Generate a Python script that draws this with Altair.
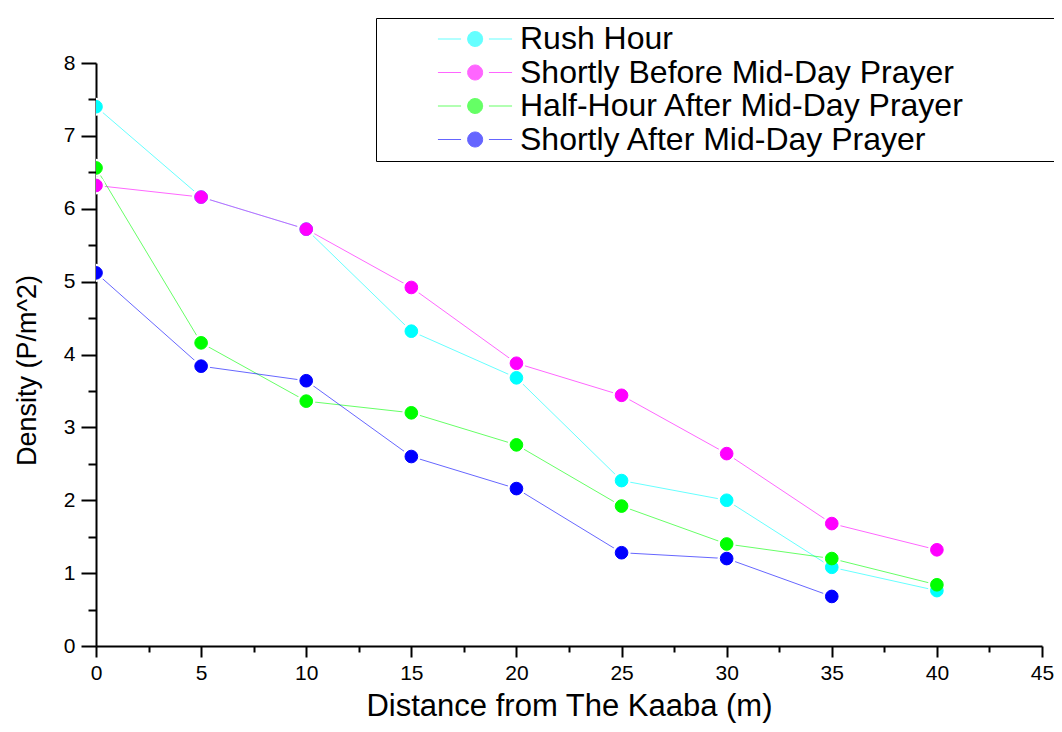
import altair as alt
import pandas as pd

distance = [0, 5, 10, 15, 20, 25, 30, 35, 40]
rush_hour = [7.40, 6.16, 5.72, 4.32, 3.68, 2.27, 2.00, 1.08, 0.76]
before_prayer = [6.32, 6.16, 5.72, 4.92, 3.88, 3.44, 2.64, 1.68, 1.32]
half_hour_after = [6.56, 4.16, 3.36, 3.20, 2.76, 1.92, 1.40, 1.20, 0.84]
shortly_after = [5.12, 3.84, 3.64, 2.60, 2.16, 1.28, 1.20, 0.68]

series_names = [
    "Rush Hour",
    "Shortly Before Mid-Day Prayer",
    "Half-Hour After Mid-Day Prayer",
    "Shortly After Mid-Day Prayer",
]
series_values = [rush_hour, before_prayer, half_hour_after, shortly_after]
colors = ["#00FFFF", "#FF00FF", "#00FF00", "#0000FF"]

x_tick_values = [i * 2.5 for i in range(19)]
y_tick_values = [i * 0.5 for i in range(17)]

rows = []
for order, (name, vals) in enumerate(zip(series_names, series_values)):
    for d, v in zip(distance, vals):
        rows.append({"distance": d, "density": v, "series": name, "order": order})
df = pd.DataFrame(rows)

FONT = "Liberation Sans"
# line - dot - line legend glyph; trailing move-to widens the legend box
symbol_path = ("M2.73,0L4.27,0M6.13,0L7.67,0"
               "M4.71,0A0.5,0.5,0,1,0,5.71,0A0.5,0.5,0,1,0,4.71,0Z"
               "M43.5,0")

legend = alt.Legend(
    orient="none", legendX=280, legendY=-45, title=None,
    symbolType=symbol_path, symbolSize=900, symbolStrokeWidth=1,
    labelFont=FONT, labelFontSize=32, labelColor="black", labelLimit=1200,
    labelOffset=107, padding=5, rowPadding=1.5,
    strokeColor="black", fillColor="white",
)
color_scale = alt.Scale(domain=series_names, range=colors)

x_enc = alt.X(
    "distance:Q",
    scale=alt.Scale(domain=[0, 45], nice=False, zero=False),
    axis=alt.Axis(
        values=x_tick_values,
        labelExpr="datum.value % 5 === 0 ? format(datum.value, 'd') : ''",
        tickSize={"condition": {"test": "datum.value % 5 === 0", "value": 11}, "value": 6},
        title="Distance from The Kaaba (m)",
        labelFont=FONT, labelFontSize=21, labelColor="black",
        labelPadding=5, titlePadding=8, labelFlush=False, labelOverlap=False,
        titleFontSize=31,
    ),
)
y_enc = alt.Y(
    "density:Q",
    scale=alt.Scale(domain=[0, 8], nice=False),
    axis=alt.Axis(
        values=y_tick_values,
        labelExpr="datum.value % 1 === 0 ? format(datum.value, 'd') : ''",
        tickSize={"condition": {"test": "datum.value % 1 === 0", "value": 15}, "value": 8},
        title="Density (P/m^2)",
        labelFont=FONT, labelFontSize=21, labelColor="black",
        labelPadding=6, titlePadding=22, labelFlush=False, labelOverlap=False,
        titleFontSize=27, titleY=307,
    ),
)

base = alt.Chart(df)

lines = base.mark_line(strokeWidth=1, opacity=0.6, clip=True).encode(
    x=x_enc, y=y_enc,
    stroke=alt.Stroke("series:N", scale=color_scale, legend=legend),
    order=alt.Order("distance:Q"),
)
halos = base.mark_circle(color="white", size=330, opacity=1, clip=True).encode(
    x=x_enc, y=y_enc,
)
points = base.mark_point(filled=True, size=160, opacity=1, strokeWidth=1, clip=True).encode(
    x=x_enc, y=y_enc,
    fill=alt.Fill("series:N", scale=color_scale, legend=legend),
    stroke=alt.Stroke("series:N", scale=color_scale, legend=legend),
    order=alt.Order("order:Q"),
)

chart = alt.layer(lines, halos, points).properties(
    width=946, height=583,
    autosize=alt.AutoSizeParams(type="none"),
    padding={"left": 88, "top": 55, "right": 12, "bottom": 78},
).configure_view(stroke=None).configure_axis(
    grid=False,
    domainColor="black", domainWidth=2,
    tickColor="black", tickWidth=2,
    labelFont=FONT, labelFontSize=21, labelColor="black",
    titleFont=FONT, titleFontWeight="normal", titleColor="black",
)

chart.save("out.html", embed_options={"renderer": "svg", "actions": False})
